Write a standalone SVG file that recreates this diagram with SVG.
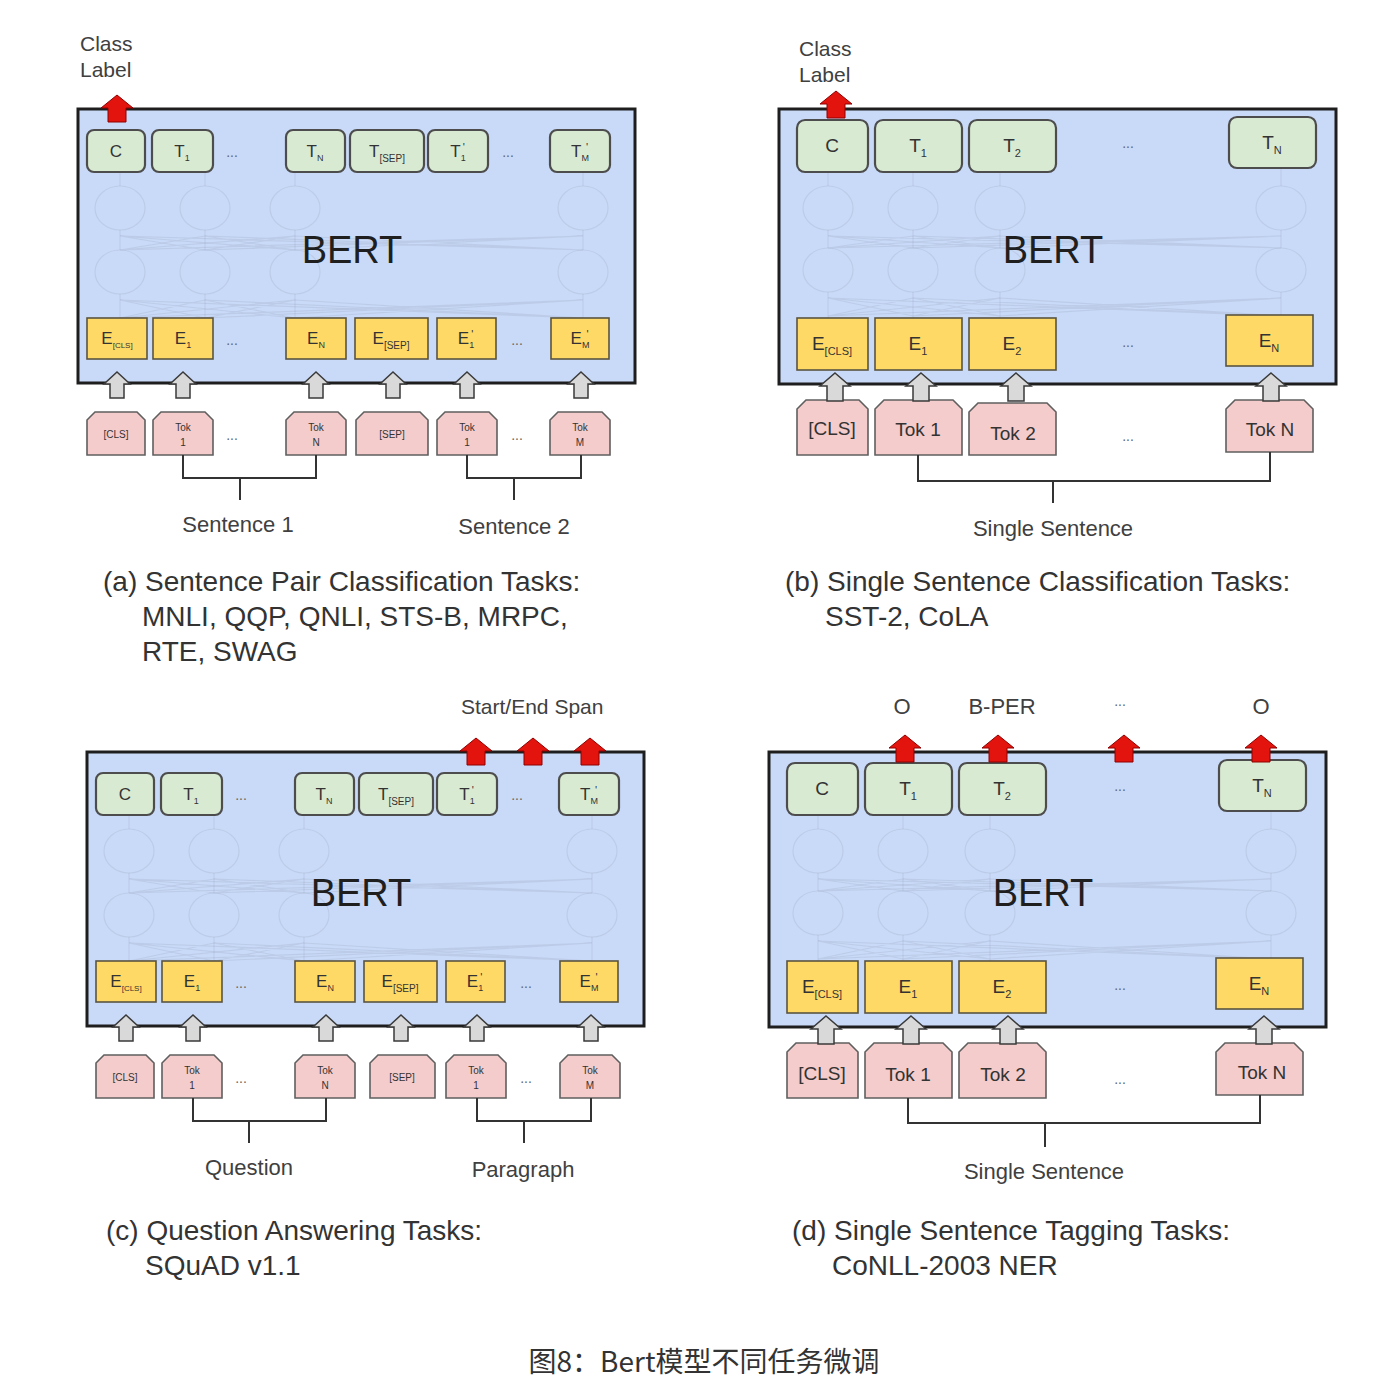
<svg xmlns="http://www.w3.org/2000/svg" xmlns:xlink="http://www.w3.org/1999/xlink" width="1384" height="1398" viewBox="0 0 1384 1398">
<style>
.bg{fill:#ffffff}
.bert{fill:#c9daf8;stroke:#1e1e1e;stroke-width:3}
.t{fill:#d9ead3;stroke:#4d4d4d;stroke-width:2.2}
.e{fill:#ffd966;stroke:#5a5440;stroke-width:1.6}
.tok{fill:#f4cccc;stroke:#5f5f5f;stroke-width:1.6}
.ga{fill:#d9d9d9;stroke:#3a3a3a;stroke-width:1.5}
.ra{fill:#e3140e;stroke:#8e0000;stroke-width:1}
.ghost{fill:none;stroke:#8f9ab0;stroke-opacity:0.22;stroke-width:1.2}
.br{fill:none;stroke:#333;stroke-width:2}
text{font-family:"Liberation Sans",Arial,"Noto Sans CJK SC",sans-serif;fill:#333}
.big{font-size:38px;fill:#1f1f1f}
.s17{font-size:17px;text-anchor:middle}
.s19{font-size:19px;text-anchor:middle}
.s10{font-size:10px;text-anchor:middle}
.dots{font-size:14px;text-anchor:middle;fill:#666}
.lab{font-size:21px;fill:#404040}
.labm{font-size:22px;fill:#404040;text-anchor:middle}
.cap{font-size:28px;fill:#333}
</style>
<defs>
<path id="gaS" d="M0,0 L13,12 L7,12 L7,26 L-7,26 L-7,12 L-13,12 Z"/>
<path id="gaL" d="M0,0 L15,13 L8,13 L8,28 L-8,28 L-8,13 L-15,13 Z"/>
<path id="raP" d="M0,0 L16,13 L9,13 L9,27 L-9,27 L-9,13 L-16,13 Z"/>
<g id="ghostA" class="ghost">
<ellipse cx="120" cy="208" rx="25" ry="22"/><ellipse cx="205" cy="208" rx="25" ry="22"/><ellipse cx="295" cy="208" rx="25" ry="22"/><ellipse cx="583" cy="208" rx="25" ry="22"/>
<ellipse cx="120" cy="272" rx="25" ry="22"/><ellipse cx="205" cy="272" rx="25" ry="22"/><ellipse cx="295" cy="272" rx="25" ry="22"/><ellipse cx="583" cy="272" rx="25" ry="22"/>
<path d="M120,173V186M205,173V186M295,173V186M583,173V186M120,230V250M205,230V250M295,230V250M583,230V250M120,294V318M205,294V318M295,294V318M583,294V318"/>
<path d="M120,236L205,250M120,236L295,250M120,236L583,250M205,236L120,250M205,236L295,250M205,236L583,250M295,236L120,250M295,236L205,250M295,236L583,250M583,236L120,250M583,236L205,250M583,236L295,250"/>
<path d="M120,300L205,318M120,300L295,318M120,300L583,318M205,300L120,318M205,300L295,318M205,300L583,318M295,300L120,318M295,300L205,318M295,300L583,318M583,300L120,318M583,300L205,318M583,300L295,318"/>
</g>
<g id="ghostB" class="ghost">
<ellipse cx="828" cy="208" rx="25" ry="22"/><ellipse cx="913" cy="208" rx="25" ry="22"/><ellipse cx="1000" cy="208" rx="25" ry="22"/><ellipse cx="1281" cy="208" rx="25" ry="22"/>
<ellipse cx="828" cy="270" rx="25" ry="22"/><ellipse cx="913" cy="270" rx="25" ry="22"/><ellipse cx="1000" cy="270" rx="25" ry="22"/><ellipse cx="1281" cy="270" rx="25" ry="22"/>
<path d="M828,172V186M913,172V186M1000,172V186M1281,168V186M828,230V248M913,230V248M1000,230V248M1281,230V248M828,292V318M913,292V318M1000,292V318M1281,292V315"/>
<path d="M828,236L913,248M828,236L1000,248M828,236L1281,248M913,236L828,248M913,236L1000,248M913,236L1281,248M1000,236L828,248M1000,236L913,248M1000,236L1281,248M1281,236L828,248M1281,236L913,248M1281,236L1000,248"/>
<path d="M828,298L913,316M828,298L1000,316M828,298L1281,316M913,298L828,316M913,298L1000,316M913,298L1281,316M1000,298L828,316M1000,298L913,316M1000,298L1281,316M1281,298L828,316M1281,298L913,316M1281,298L1000,316"/>
</g>
</defs>
<rect class="bg" x="0" y="0" width="1384" height="1398"/>

<!-- ============ Panel (a) ============ -->
<g id="panel-a">
<text class="lab" x="80" y="51">Class</text>
<text class="lab" x="80" y="77">Label</text>
<g id="a-bert"><rect class="bert" x="78" y="109" width="557" height="274"/>
<use xlink:href="#ghostA"/>
<text class="big" x="352" y="263" text-anchor="middle">BERT</text></g>
<g id="a-C"><rect class="t" x="87" y="130" width="58" height="42" rx="7"/><text class="s17" x="116" y="157">C</text></g>
<g id="a-T1"><rect class="t" x="152" y="130" width="61" height="42" rx="7"/><text class="s17" x="182" y="157">T<tspan font-size="9" dy="4">1</tspan></text></g>
<text class="dots" x="232" y="157">...</text>
<g id="a-TN"><rect class="t" x="286" y="130" width="59" height="42" rx="7"/><text class="s17" x="315" y="157">T<tspan font-size="9" dy="4">N</tspan></text></g>
<g id="a-TSEP"><rect class="t" x="350" y="130" width="74" height="42" rx="7"/><text class="s17" x="387" y="157">T<tspan font-size="10" dy="5">[SEP]</tspan></text></g>
<g id="a-T1p"><rect class="t" x="428" y="130" width="60" height="42" rx="7"/><text class="s17" x="458" y="157">T<tspan font-size="9" dy="4">1</tspan><tspan font-size="11" dx="-3" dy="-10">'</tspan></text></g>
<text class="dots" x="508" y="157">...</text>
<g id="a-TMp"><rect class="t" x="550" y="130" width="60" height="42" rx="7"/><text class="s17" x="580" y="157">T<tspan font-size="9" dy="4">M</tspan><tspan font-size="11" dx="-3" dy="-10">'</tspan></text></g>

<g id="a-ECLS"><rect class="e" x="87" y="318" width="60" height="41"/><text class="s17" x="117" y="344">E<tspan font-size="8" dy="4">[CLS]</tspan></text></g>
<g id="a-E1"><rect class="e" x="153" y="318" width="60" height="41"/><text class="s17" x="183" y="344">E<tspan font-size="9" dy="4">1</tspan></text></g>
<text class="dots" x="232" y="345">...</text>
<g id="a-EN"><rect class="e" x="286" y="318" width="60" height="41"/><text class="s17" x="316" y="344">E<tspan font-size="9" dy="4">N</tspan></text></g>
<g id="a-ESEP"><rect class="e" x="355" y="318" width="73" height="41"/><text class="s17" x="391" y="344">E<tspan font-size="10" dy="5">[SEP]</tspan></text></g>
<g id="a-E1p"><rect class="e" x="437" y="318" width="59" height="41"/><text class="s17" x="466" y="344">E<tspan font-size="9" dy="4">1</tspan><tspan font-size="11" dx="-3" dy="-10">'</tspan></text></g>
<text class="dots" x="517" y="345">...</text>
<g id="a-EMp"><rect class="e" x="551" y="318" width="58" height="41"/><text class="s17" x="580" y="344">E<tspan font-size="9" dy="4">M</tspan><tspan font-size="11" dx="-3" dy="-10">'</tspan></text></g>

<g id="a-tCLS"><path class="tok" d="M87,455V420L95,412H137L145,420V455Z"/><text class="s10" x="116" y="438" font-size="9">[CLS]</text></g>
<g id="a-tTok1"><path class="tok" d="M153,455V420L161,412H205L213,420V455Z"/><text class="s10" x="183" y="431">Tok</text><text class="s10" x="183" y="446">1</text></g>
<text class="dots" x="232" y="440">...</text>
<g id="a-tTokN"><path class="tok" d="M286,455V420L294,412H338L346,420V455Z"/><text class="s10" x="316" y="431">Tok</text><text class="s10" x="316" y="446">N</text></g>
<g id="a-tSEP"><path class="tok" d="M356,455V420L364,412H420L428,420V455Z"/><text class="s10" x="392" y="438" font-size="11">[SEP]</text></g>
<g id="a-tTok1b"><path class="tok" d="M437,455V420L445,412H489L497,420V455Z"/><text class="s10" x="467" y="431">Tok</text><text class="s10" x="467" y="446">1</text></g>
<text class="dots" x="517" y="440">...</text>
<g id="a-tTokM"><path class="tok" d="M550,455V420L558,412H602L610,420V455Z"/><text class="s10" x="580" y="431">Tok</text><text class="s10" x="580" y="446">M</text></g>
<text class="labm" x="238" y="532">Sentence 1</text>
<text class="labm" x="514" y="534">Sentence 2</text>
</g>
<g id="connectors-a">
<use xlink:href="#raP" class="ra" x="117" y="95"/>
<use xlink:href="#gaS" class="ga" x="117" y="372"/>
<use xlink:href="#gaS" class="ga" x="183" y="372"/>
<use xlink:href="#gaS" class="ga" x="316" y="372"/>
<use xlink:href="#gaS" class="ga" x="393" y="372"/>
<use xlink:href="#gaS" class="ga" x="467" y="372"/>
<use xlink:href="#gaS" class="ga" x="581" y="372"/>
<path class="br" d="M183,455V478H316V455M240,478V500M467,455V478H581V455M514,478V500"/>
</g>

<!-- ============ Panel (b) ============ -->
<g id="panel-b">
<text class="lab" x="799" y="56">Class</text>
<text class="lab" x="799" y="82">Label</text>
<g id="b-bert"><rect class="bert" x="779" y="109" width="557" height="275"/>
<use xlink:href="#ghostB"/>
<text class="big" x="1053" y="263" text-anchor="middle">BERT</text></g>
<g id="b-C"><rect class="t" x="797" y="120" width="71" height="52" rx="8"/><text class="s19" x="832" y="152">C</text></g>
<g id="b-T1"><rect class="t" x="875" y="120" width="87" height="52" rx="8"/><text class="s19" x="918" y="152">T<tspan font-size="11" dy="5">1</tspan></text></g>
<g id="b-T2"><rect class="t" x="969" y="120" width="87" height="52" rx="8"/><text class="s19" x="1012" y="152">T<tspan font-size="11" dy="5">2</tspan></text></g>
<text class="dots" x="1128" y="148">...</text>
<g id="b-TN"><rect class="t" x="1229" y="117" width="87" height="51" rx="8"/><text class="s19" x="1272" y="149">T<tspan font-size="11" dy="5">N</tspan></text></g>
<g id="b-ECLS"><rect class="e" x="797" y="318" width="71" height="52"/><text class="s19" x="832" y="350">E<tspan font-size="11" dy="5">[CLS]</tspan></text></g>
<g id="b-E1"><rect class="e" x="875" y="318" width="87" height="52"/><text class="s19" x="918" y="350">E<tspan font-size="11" dy="5">1</tspan></text></g>
<g id="b-E2"><rect class="e" x="969" y="318" width="87" height="52"/><text class="s19" x="1012" y="350">E<tspan font-size="11" dy="5">2</tspan></text></g>
<text class="dots" x="1128" y="347">...</text>
<g id="b-EN"><rect class="e" x="1226" y="315" width="87" height="51"/><text class="s19" x="1269" y="347">E<tspan font-size="11" dy="5">N</tspan></text></g>
<g id="b-tCLS"><path class="tok" d="M797,455V409L806,400H859L868,409V455Z"/><text class="s19" x="832" y="435" font-size="16">[CLS]</text></g>
<g id="b-tTok1"><path class="tok" d="M875,455V409L884,400H953L962,409V455Z"/><text class="s19" x="918" y="436">Tok 1</text></g>
<g id="b-tTok2"><path class="tok" d="M969,455V412L978,403H1047L1056,412V455Z"/><text class="s19" x="1013" y="440">Tok 2</text></g>
<text class="dots" x="1128" y="441">...</text>
<g id="b-tTokN"><path class="tok" d="M1226,452V409L1235,400H1304L1313,409V452Z"/><text class="s19" x="1270" y="436">Tok N</text></g>
<text class="labm" x="1053" y="536">Single Sentence</text>
</g>
<g id="connectors-b">
<use xlink:href="#raP" class="ra" x="836" y="91"/>
<use xlink:href="#gaL" class="ga" x="835" y="373"/>
<use xlink:href="#gaL" class="ga" x="921" y="373"/>
<use xlink:href="#gaL" class="ga" x="1016" y="373"/>
<use xlink:href="#gaL" class="ga" x="1271" y="373"/>
<path class="br" d="M918,455V481H1270V452M1053,481V503"/>
</g>

<!-- ============ Panel (c) ============ -->
<text class="lab" x="461" y="714" font-size="22">Start/End Span</text>
<g id="panel-c" transform="translate(9,643)">
<g id="c-bert"><rect class="bert" x="78" y="109" width="557" height="274"/>
<use xlink:href="#ghostA"/>
<text class="big" x="352" y="263" text-anchor="middle">BERT</text></g>
<g id="c-C"><rect class="t" x="87" y="130" width="58" height="42" rx="7"/><text class="s17" x="116" y="157">C</text></g>
<g id="c-T1"><rect class="t" x="152" y="130" width="61" height="42" rx="7"/><text class="s17" x="182" y="157">T<tspan font-size="9" dy="4">1</tspan></text></g>
<text class="dots" x="232" y="157">...</text>
<g id="c-TN"><rect class="t" x="286" y="130" width="59" height="42" rx="7"/><text class="s17" x="315" y="157">T<tspan font-size="9" dy="4">N</tspan></text></g>
<g id="c-TSEP"><rect class="t" x="350" y="130" width="74" height="42" rx="7"/><text class="s17" x="387" y="157">T<tspan font-size="10" dy="5">[SEP]</tspan></text></g>
<g id="c-T1p"><rect class="t" x="428" y="130" width="60" height="42" rx="7"/><text class="s17" x="458" y="157">T<tspan font-size="9" dy="4">1</tspan><tspan font-size="11" dx="-3" dy="-10">'</tspan></text></g>
<text class="dots" x="508" y="157">...</text>
<g id="c-TMp"><rect class="t" x="550" y="130" width="60" height="42" rx="7"/><text class="s17" x="580" y="157">T<tspan font-size="9" dy="4">M</tspan><tspan font-size="11" dx="-3" dy="-10">'</tspan></text></g>
<g id="c-ECLS"><rect class="e" x="87" y="318" width="60" height="41"/><text class="s17" x="117" y="344">E<tspan font-size="8" dy="4">[CLS]</tspan></text></g>
<g id="c-E1"><rect class="e" x="153" y="318" width="60" height="41"/><text class="s17" x="183" y="344">E<tspan font-size="9" dy="4">1</tspan></text></g>
<text class="dots" x="232" y="345">...</text>
<g id="c-EN"><rect class="e" x="286" y="318" width="60" height="41"/><text class="s17" x="316" y="344">E<tspan font-size="9" dy="4">N</tspan></text></g>
<g id="c-ESEP"><rect class="e" x="355" y="318" width="73" height="41"/><text class="s17" x="391" y="344">E<tspan font-size="10" dy="5">[SEP]</tspan></text></g>
<g id="c-E1p"><rect class="e" x="437" y="318" width="59" height="41"/><text class="s17" x="466" y="344">E<tspan font-size="9" dy="4">1</tspan><tspan font-size="11" dx="-3" dy="-10">'</tspan></text></g>
<text class="dots" x="517" y="345">...</text>
<g id="c-EMp"><rect class="e" x="551" y="318" width="58" height="41"/><text class="s17" x="580" y="344">E<tspan font-size="9" dy="4">M</tspan><tspan font-size="11" dx="-3" dy="-10">'</tspan></text></g>
<g id="c-tCLS"><path class="tok" d="M87,455V420L95,412H137L145,420V455Z"/><text class="s10" x="116" y="438" font-size="9">[CLS]</text></g>
<g id="c-tTok1"><path class="tok" d="M153,455V420L161,412H205L213,420V455Z"/><text class="s10" x="183" y="431">Tok</text><text class="s10" x="183" y="446">1</text></g>
<text class="dots" x="232" y="440">...</text>
<g id="c-tTokN"><path class="tok" d="M286,455V420L294,412H338L346,420V455Z"/><text class="s10" x="316" y="431">Tok</text><text class="s10" x="316" y="446">N</text></g>
<g id="c-tSEP"><path class="tok" d="M361,455V420L369,412H418L426,420V455Z"/><text class="s10" x="393" y="438" font-size="11">[SEP]</text></g>
<g id="c-tTok1b"><path class="tok" d="M437,455V420L445,412H489L497,420V455Z"/><text class="s10" x="467" y="431">Tok</text><text class="s10" x="467" y="446">1</text></g>
<text class="dots" x="517" y="440">...</text>
<g id="c-tTokM"><path class="tok" d="M551,455V420L559,412H603L611,420V455Z"/><text class="s10" x="581" y="431">Tok</text><text class="s10" x="581" y="446">M</text></g>
<text class="labm" x="240" y="532">Question</text>
<text class="labm" x="514" y="534">Paragraph</text>
<g id="connectors-c">
<use xlink:href="#raP" class="ra" x="467" y="95"/>
<use xlink:href="#raP" class="ra" x="524" y="95"/>
<use xlink:href="#raP" class="ra" x="581" y="95"/>
<use xlink:href="#gaS" class="ga" x="117" y="372"/>
<use xlink:href="#gaS" class="ga" x="184" y="372"/>
<use xlink:href="#gaS" class="ga" x="317" y="372"/>
<use xlink:href="#gaS" class="ga" x="392" y="372"/>
<use xlink:href="#gaS" class="ga" x="468" y="372"/>
<use xlink:href="#gaS" class="ga" x="582" y="372"/>
<path class="br" d="M184,455V478H317V455M240,478V500M468,455V478H582V455M515,478V500"/>
</g>
</g>

<!-- ============ Panel (d) ============ -->
<text class="labm" x="902" y="714">O</text>
<text class="labm" x="1002" y="714">B-PER</text>
<text class="dots" x="1120" y="706">...</text>
<text class="labm" x="1261" y="714">O</text>
<g id="panel-d" transform="translate(-10,643)">
<g id="d-bert"><rect class="bert" x="779" y="109" width="557" height="275"/>
<use xlink:href="#ghostB"/>
<text class="big" x="1053" y="263" text-anchor="middle">BERT</text></g>
<g id="d-C"><rect class="t" x="797" y="120" width="71" height="52" rx="8"/><text class="s19" x="832" y="152">C</text></g>
<g id="d-T1"><rect class="t" x="875" y="120" width="87" height="52" rx="8"/><text class="s19" x="918" y="152">T<tspan font-size="11" dy="5">1</tspan></text></g>
<g id="d-T2"><rect class="t" x="969" y="120" width="87" height="52" rx="8"/><text class="s19" x="1012" y="152">T<tspan font-size="11" dy="5">2</tspan></text></g>
<text class="dots" x="1130" y="148">...</text>
<g id="d-TN"><rect class="t" x="1229" y="117" width="87" height="51" rx="8"/><text class="s19" x="1272" y="149">T<tspan font-size="11" dy="5">N</tspan></text></g>
<g id="d-ECLS"><rect class="e" x="797" y="318" width="71" height="52"/><text class="s19" x="832" y="350">E<tspan font-size="11" dy="5">[CLS]</tspan></text></g>
<g id="d-E1"><rect class="e" x="875" y="318" width="87" height="52"/><text class="s19" x="918" y="350">E<tspan font-size="11" dy="5">1</tspan></text></g>
<g id="d-E2"><rect class="e" x="969" y="318" width="87" height="52"/><text class="s19" x="1012" y="350">E<tspan font-size="11" dy="5">2</tspan></text></g>
<text class="dots" x="1130" y="347">...</text>
<g id="d-EN"><rect class="e" x="1226" y="315" width="87" height="51"/><text class="s19" x="1269" y="347">E<tspan font-size="11" dy="5">N</tspan></text></g>
<g id="d-tCLS"><path class="tok" d="M797,455V409L806,400H859L868,409V455Z"/><text class="s19" x="832" y="437" font-size="16">[CLS]</text></g>
<g id="d-tTok1"><path class="tok" d="M875,455V409L884,400H953L962,409V455Z"/><text class="s19" x="918" y="438">Tok 1</text></g>
<g id="d-tTok2"><path class="tok" d="M969,455V409L978,400H1047L1056,409V455Z"/><text class="s19" x="1013" y="438">Tok 2</text></g>
<text class="dots" x="1130" y="441">...</text>
<g id="d-tTokN"><path class="tok" d="M1226,452V409L1235,400H1304L1313,409V452Z"/><text class="s19" x="1272" y="436">Tok N</text></g>
<text class="labm" x="1054" y="536">Single Sentence</text>
<g id="connectors-d">
<use xlink:href="#raP" class="ra" x="915" y="92"/>
<use xlink:href="#raP" class="ra" x="1008" y="92"/>
<use xlink:href="#raP" class="ra" x="1134" y="92"/>
<use xlink:href="#raP" class="ra" x="1271" y="92"/>
<use xlink:href="#gaL" class="ga" x="836" y="373"/>
<use xlink:href="#gaL" class="ga" x="921" y="373"/>
<use xlink:href="#gaL" class="ga" x="1018" y="373"/>
<use xlink:href="#gaL" class="ga" x="1274" y="373"/>
<path class="br" d="M918,455V480H1270V452M1055,480V504"/>
</g>
</g>

<!-- ============ Captions ============ -->
<g id="captions">
<text class="cap" x="103" y="591">(a) Sentence Pair Classification Tasks:</text>
<text class="cap" x="142" y="626">MNLI, QQP, QNLI, STS-B, MRPC,</text>
<text class="cap" x="142" y="661">RTE, SWAG</text>
<text class="cap" x="785" y="591">(b) Single Sentence Classification Tasks:</text>
<text class="cap" x="825" y="626">SST-2, CoLA</text>
<text class="cap" x="106" y="1240">(c) Question Answering Tasks:</text>
<text class="cap" x="145" y="1275">SQuAD v1.1</text>
<text class="cap" x="792" y="1240">(d) Single Sentence Tagging Tasks:</text>
<text class="cap" x="832" y="1275">CoNLL-2003 NER</text>
<text x="704" y="1372" text-anchor="middle" style="font-family:'Noto Sans CJK SC','Noto Sans',sans-serif;font-size:28px;fill:#333">图8：Bert模型不同任务微调</text>
</g>
</svg>
